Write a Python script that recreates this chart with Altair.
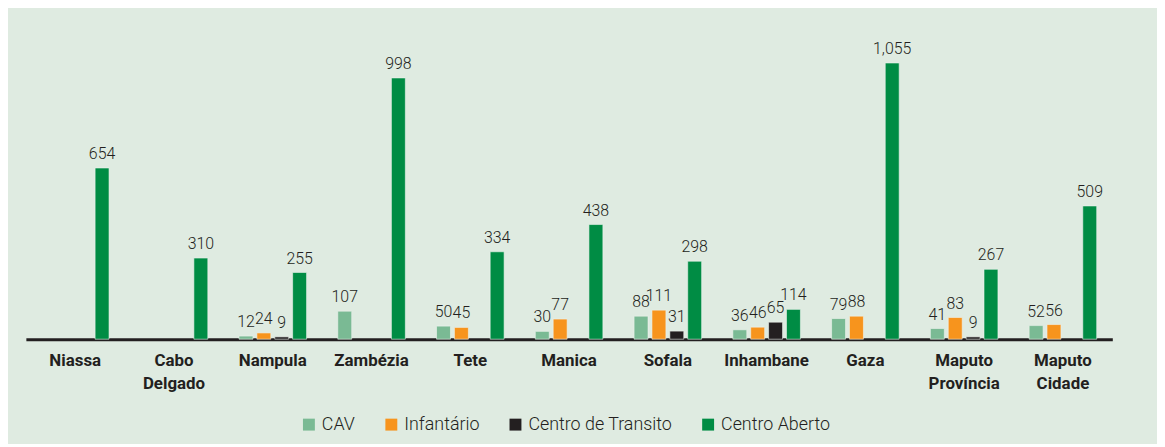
import altair as alt
import pandas as pd

provinces = ["Niassa", "Cabo Delgado", "Nampula", "Zambézia", "Tete", "Manica",
             "Sofala", "Inhambane", "Gaza", "Maputo Província", "Maputo Cidade"]
series = ["CAV", "Infantário", "Centro de Transito", "Centro Aberto"]
cav = [None, None, 12, 107, 50, 30, 88, 36, 79, 41, 52]
infantario = [None, None, 24, None, 45, 77, 111, 46, 88, 83, 56]
transito = [None, None, 9, None, None, None, 31, 65, None, 9, None]
aberto = [654, 310, 255, 998, 334, 438, 298, 114, 1055, 267, 509]
colors = ["#7aba94", "#f7941d", "#231f20", "#008c44"]

rows = []
for s, vals in zip(series, [cav, infantario, transito, aberto]):
    for p, v in zip(provinces, vals):
        if v is not None:
            rows.append({"prov": p, "serie": s, "valor": v})
df = pd.DataFrame(rows)

x = alt.X("prov:N", sort=provinces, title=None,
          scale=alt.Scale(paddingInner=0.276, paddingOuter=0.138),
          axis=alt.Axis(labelAngle=0, ticks=False, domainColor="#231f20",
                        domainWidth=3, labelFont="Roboto",
                        labelFontWeight="bold", labelFontSize=17, labelColor="#231f20",
                        labelPadding=13, labelBaseline="top", labelLineHeight=24,
                        labelExpr="split(datum.label, ' ')"))
xo = alt.XOffset("serie:N", sort=series,
                 scale=alt.Scale(domain=series, paddingInner=0.22, paddingOuter=0.11))
y = alt.Y("valor:Q", title=None, scale=alt.Scale(domain=[0, 1100], nice=False),
          axis=None)

bars = alt.Chart(df).mark_bar(stroke="#eef4ee", strokeWidth=0.6).encode(
    x=x, xOffset=xo, y=y,
    color=alt.Color("serie:N", sort=series,
                    scale=alt.Scale(domain=series, range=colors),
                    legend=alt.Legend(title=None, orient="none", direction="horizontal",
                                      legendX=276, legendY=367, columns=4,
                                      symbolType="square", symbolSize=144,
                                      symbolStrokeWidth=0, labelFont="Roboto",
                                      labelFontWeight=300,
                                      labelFontSize=18, labelColor="#231f20",
                                      columnPadding=27, labelOffset=4)),
)
labels = alt.Chart(df).mark_text(baseline="bottom", dy=-6, font="Roboto",
                                 fontWeight=300,
                                 fontSize=16, color="#231f20").encode(
    x=x, xOffset=xo, y=y,
    text=alt.Text("valor:Q", format=","),
)

chart = alt.layer(bars, labels).properties(
    width=1094, height=290,
    autosize=alt.AutoSizeParams(type="none"),
    padding={"left": 18, "right": 45, "top": 42, "bottom": 104},
    background="#dfebe1",
).configure_view(stroke=None)

chart.save("out.html", embed_options={"renderer": "svg", "actions": False})
